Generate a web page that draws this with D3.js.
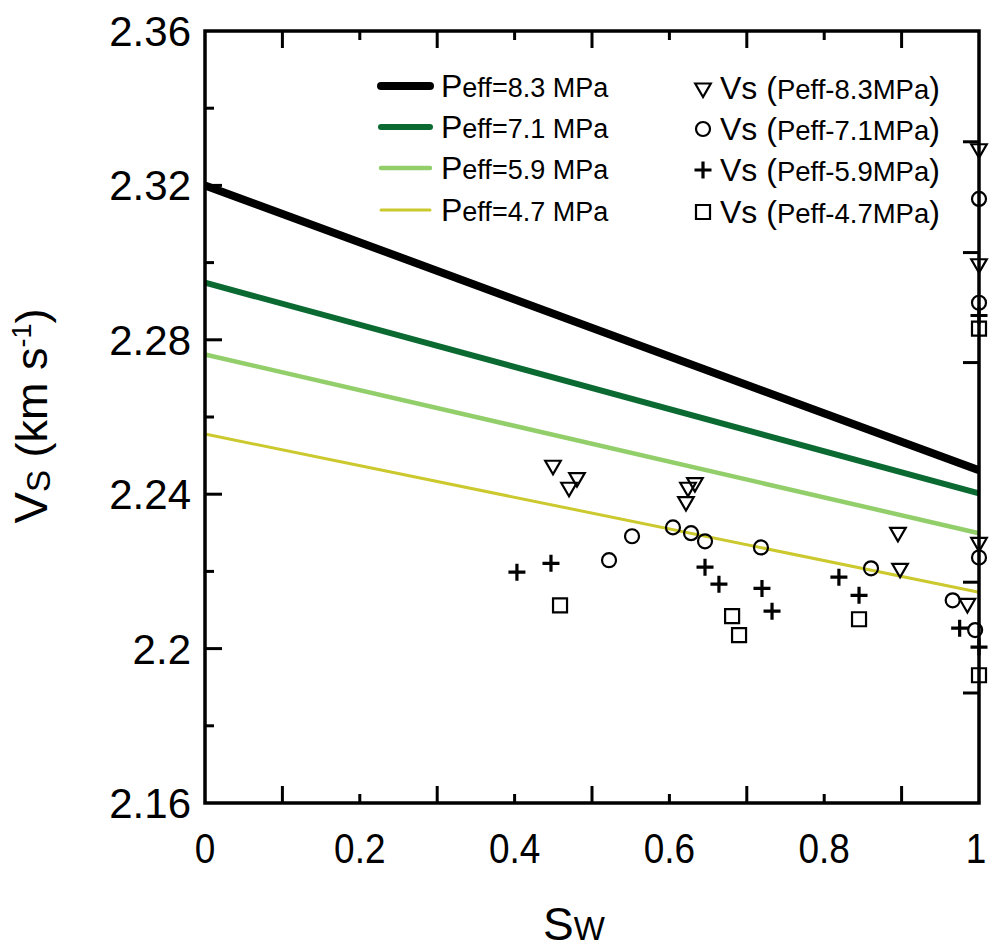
<!DOCTYPE html>
<html>
<head>
<meta charset="utf-8">
<script src="https://cdn.jsdelivr.net/npm/d3@7"></script>
<style>
  body { margin: 0; background: #fff; }
  text { font-family: "Liberation Sans", Arial, sans-serif; fill: #000; }
</style>
</head>
<body>
<div id="chart"></div>
<script>
var width = 989;
var height = 952;

// plot box
var margin = { top: 31, right: 10, bottom: 149, left: 205 };
var chartWidth = width - margin.left - margin.right;
var chartHeight = height - margin.top - margin.bottom;

// model lines (Vs at Sw=0 and Sw=1)
var pressures = ['8.3', '7.1', '5.9', '4.7'];
var vsDry = [2.3200, 2.2948, 2.2762, 2.2556];
var vsSat = [2.2462, 2.2402, 2.2299, 2.2146];
var lineColors = ['#000000', '#0b6a32', '#92cf6b', '#cbc92e'];
var lineWidths = [8, 6, 4.5, 3];

// measured Vs, one array per pressure
var sw83 = [0.4496, 0.4806, 0.4703, 0.6214, 0.6240, 0.6330, 0.8953, 0.8980, 0.9850, 1, 1, 1];
var vs83 = [2.2475, 2.2443, 2.2418, 2.2381, 2.2418, 2.2430, 2.2301, 2.2208, 2.2117, 2.3295, 2.2997, 2.2275];

var sw71 = [0.5220, 0.5517, 0.6046, 0.6280, 0.6460, 0.7183, 0.8605, 0.9660, 0.9950, 1, 1, 1];
var vs71 = [2.2229, 2.2291, 2.2314, 2.2299, 2.2278, 2.2262, 2.2208, 2.2125, 2.2048, 2.3165, 2.2896, 2.2236];

var sw59 = [0.4030, 0.4470, 0.6460, 0.6640, 0.7196, 0.7326, 0.8190, 0.8450, 0.9750, 1, 1];
var vs59 = [2.2198, 2.2221, 2.2211, 2.2167, 2.2156, 2.2097, 2.2185, 2.2138, 2.2053, 2.2863, 2.2004];

var sw47 = [0.4587, 0.6810, 0.6900, 0.8450, 1, 1];
var vs47 = [2.2112, 2.2084, 2.2035, 2.2076, 2.2829, 2.1931];

// error-bar caps seen at Sw = 1
var capVs = [2.3313, 2.3026, 2.2741, 2.2172, 2.1885];

var xTicks = [0, 0.2, 0.4, 0.6, 0.8, 1];
var yTicks = [2.16, 2.20, 2.24, 2.28, 2.32, 2.36];

var svg = d3.select('#chart').append('svg')
    .attr('width', width)
    .attr('height', height)
    .append('g')
    .attr('transform', `translate(${margin.left}, ${margin.top})`);

var xScale = d3.scaleLinear().domain([0, 1]).range([0, chartWidth]);
var yScale = d3.scaleLinear().domain([2.16, 2.36]).range([chartHeight, 0]);

// ticks (inward). y: labelled ticks long; x: odd tenths long
var tickX = d3.range(0.1, 1.0001, 0.1).map(d => +d.toFixed(1)).filter(d => d < 1);
var tickY = d3.range(2.18, 2.3601, 0.02).map(d => +d.toFixed(2)).filter(d => d < 2.36);

function xTickLen(d) {
    return Math.round(d * 10) % 2 === 1 ? 17 : 9;
}
function yTickLen(d) {
    return Math.round(d * 100) % 4 === 0 ? 17 : 9;
}

var ticks = svg.append('g').attr('stroke', '#000').attr('stroke-width', 3);
ticks.selectAll('.xb').data(tickX).enter().append('line')
    .attr('x1', d => xScale(d)).attr('x2', d => xScale(d))
    .attr('y1', chartHeight).attr('y2', d => chartHeight - xTickLen(d));
ticks.selectAll('.xt').data(tickX).enter().append('line')
    .attr('x1', d => xScale(d)).attr('x2', d => xScale(d))
    .attr('y1', 0).attr('y2', d => xTickLen(d));
ticks.selectAll('.yl').data(tickY).enter().append('line')
    .attr('x1', 0).attr('x2', d => yTickLen(d))
    .attr('y1', d => yScale(d)).attr('y2', d => yScale(d));

// tick labels (x labels a bit condensed, like the original)
svg.append('g').selectAll('text').data(xTicks).enter().append('text')
    .attr('transform', d => `translate(${xScale(d) - (d === 1 ? 3 : 0)}, ${chartHeight + 60}) scale(0.86, 1)`)
    .attr('text-anchor', 'middle')
    .style('font-size', '43px')
    .text(d => String(d));

svg.append('g').selectAll('text').data(yTicks).enter().append('text')
    .attr('x', -14)
    .attr('y', d => yScale(d) + 15)
    .attr('text-anchor', 'end')
    .style('font-size', '42px')
    .text(d => String(+d.toFixed(2)));

// model lines
var lines = pressures.map((p, i) => ({ p: p, v0: vsDry[i], v1: vsSat[i], color: lineColors[i], w: lineWidths[i] }));
svg.append('g').selectAll('line').data(lines).enter().append('line')
    .attr('x1', xScale(0)).attr('y1', d => yScale(d.v0))
    .attr('x2', xScale(1)).attr('y2', d => yScale(d.v1))
    .attr('stroke', d => d.color)
    .attr('stroke-width', d => d.w);

// markers
var triPath = d3.symbol().type(d3.symbolTriangle).size(105)();
var circlePath = d3.arc()({ innerRadius: 0, outerRadius: 7, startAngle: 0, endAngle: 2 * Math.PI });
function plusPath(s) {
    return `M${-s},0H${s}M0,${-s}V${s}`;
}

function styleMarker(sel, kind) {
    if (kind === 'tri') sel.attr('d', triPath).attr('stroke-width', 2.2);
    else if (kind === 'circle') sel.attr('d', circlePath).attr('stroke-width', 2.2);
    else if (kind === 'plus') sel.attr('d', plusPath(8.5)).attr('stroke-width', 3.2);
    else sel.attr('d', 'M-7,-7H7V7H-7Z').attr('stroke-width', 2.2);
}

function drawSeries(sw, vs, kind) {
    var pts = sw.map((d, i) => [d, vs[i]]);
    var g = svg.append('g')
        .attr('fill', 'none')
        .attr('stroke', '#000');
    var sel = g.selectAll('path').data(pts).enter().append('path')
        .attr('transform', d => `translate(${xScale(d[0])}, ${yScale(d[1])})` + (kind === 'tri' ? ' rotate(180)' : ''));
    styleMarker(sel, kind);
}
drawSeries(sw83, vs83, 'tri');
drawSeries(sw71, vs71, 'circle');
drawSeries(sw59, vs59, 'plus');
drawSeries(sw47, vs47, 'square');

svg.append('g').selectAll('line').data(capVs).enter().append('line')
    .attr('x1', xScale(1) - 16).attr('x2', xScale(1))
    .attr('y1', d => yScale(d)).attr('y2', d => yScale(d))
    .attr('stroke', '#000').attr('stroke-width', 3);

// frame
svg.append('rect')
    .attr('x', 0).attr('y', 0)
    .attr('width', chartWidth).attr('height', chartHeight)
    .attr('fill', 'none')
    .attr('stroke', '#000')
    .attr('stroke-width', 3.5);

// legend: lines
var legRowY = [55, 96, 137, 179];
var legLines = svg.append('g');
lines.forEach(function (d, i) {
    legLines.append('line')
        .attr('x1', 176).attr('x2', 225)
        .attr('y1', legRowY[i]).attr('y2', legRowY[i])
        .attr('stroke', d.color)
        .attr('stroke-width', d.w)
        .attr('stroke-linecap', 'round');
    var t = legLines.append('text')
        .attr('x', 236)
        .attr('y', legRowY[i] + 11);
    t.append('tspan').style('font-size', '32px').text('P');
    t.append('tspan').style('font-size', '27px').text('eff=' + d.p + ' MPa');
});

// legend: symbols
var legSym = svg.append('g').attr('fill', 'none').attr('stroke', '#000');
var symKinds = ['tri', 'circle', 'plus', 'square'];
symKinds.forEach(function (k, i) {
    var p = legSym.append('path')
        .attr('transform', `translate(498, ${legRowY[i] + 2})` + (k === 'tri' ? ' rotate(180)' : ''));
    styleMarker(p, k);

    var t = svg.append('text')
        .attr('x', 515)
        .attr('y', legRowY[i] + 13);
    t.append('tspan').style('font-size', '32px').text('Vs (');
    t.append('tspan').style('font-size', '27.5px').text('Peff-' + pressures[i] + 'MPa');
    t.append('tspan').style('font-size', '32px').text(')');
});

// axis titles
var xt = svg.append('text')
    .attr('x', chartWidth / 2 - 18)
    .attr('y', chartHeight + 137)
    .attr('text-anchor', 'middle');
xt.append('tspan').style('font-size', '46px').text('S');
xt.append('tspan').style('font-size', '33px').text('W');

var yt = svg.append('g')
    .attr('transform', `translate(-158, 385) rotate(-90)`)
    .append('text')
    .attr('x', 0).attr('y', 0)
    .attr('text-anchor', 'middle');
yt.append('tspan').style('font-size', '47px').text('V');
yt.append('tspan').style('font-size', '33px').attr('dy', 3).text('S');
yt.append('tspan').style('font-size', '45px').attr('dy', -3).text(' (km s');
yt.append('tspan').style('font-size', '27px').attr('dy', -16).text('-1');
yt.append('tspan').style('font-size', '45px').attr('dy', 16).text(')');
</script>
</body>
</html>
